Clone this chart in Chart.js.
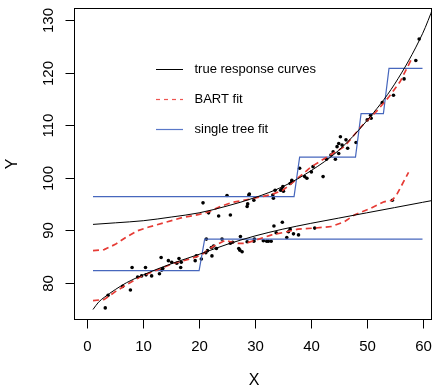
<!DOCTYPE html>
<html>
<head>
<meta charset="utf-8">
<script src="https://cdn.jsdelivr.net/npm/chart.js@4"></script>
<style>
html,body{margin:0;padding:0;background:#fff;}
#wrap{width:436px;height:387px;}
</style>
</head>
<body>
<div id="wrap"><canvas id="c" width="436" height="387"></canvas></div>
<script>
// ---- data ----
const xTicks = [0, 10, 20, 30, 40, 50, 60];
const yTicks = [80, 90, 100, 110, 120, 130];
const legendLabels = ['true response curves', 'BART fit', 'single tree fit'];
const xTitle = 'X';
const yTitle = 'Y';

// true response curves
const trueUpperX = [1, 5, 10, 15, 20, 25, 30, 35, 40, 45, 50, 55, 60, 62];
const trueUpperY = [91.1, 91.4, 91.8, 92.5, 93.3, 94.6, 96.2, 98.3, 101.3, 105.2, 110.8, 117.8, 127.4, 132.6];
const trueLowerX = [1, 2, 3, 5, 7, 10, 15, 20, 25, 30, 35, 40, 45, 50, 55, 60, 62];
const trueLowerY = [74.9, 76.3, 77.2, 78.7, 80.0, 81.5, 83.6, 85.4, 87.3, 88.9, 90.2, 91.3, 92.3, 93.3, 94.3, 95.3, 95.7];

// BART fit
const bartUpperX = [1, 3, 5, 7, 9, 11, 14, 17, 20, 22, 24, 26, 29, 33, 35, 37, 40, 43, 46, 49, 52, 54, 56, 58];
const bartUpperY = [86.1, 86.3, 87.3, 88.7, 89.9, 90.6, 91.5, 92.4, 93.0, 93.6, 94.6, 95.3, 95.9, 96.8, 97.6, 99.3, 102.0, 104.0, 105.9, 109.7, 112.9, 115.4, 118.3, 122.5];
const bartLowerX = [1, 3, 5, 7, 9.4, 12.4, 15.4, 18.3, 20.4, 22.5, 24.7, 26.5, 28.3, 30.1, 33, 35.7, 37.7, 40.7, 43.7, 46, 47.8, 50.8, 53.1, 54.6, 55.5, 57.5];
const bartLowerY = [76.6, 76.8, 78.3, 79.6, 81.1, 82.4, 83.7, 84.5, 85.3, 86.9, 88.1, 87.5, 87.5, 88.1, 89.1, 89.7, 90.2, 90.4, 90.7, 91.6, 92.9, 94.2, 95.4, 95.7, 97.0, 101.0];

// single tree fit
const treeUpperX = [1, 37, 38, 48, 49, 53, 54, 60];
const treeUpperY = [96.4, 96.4, 103.9, 103.9, 112.2, 112.2, 120.8, 120.8];
const treeLowerX = [1, 20, 21, 60];
const treeLowerY = [82.3, 82.3, 88.3, 88.3];

// observed points
const obsX = [3.2, 3.7, 6.3, 7.7, 8.0, 9.0, 9.7, 10.4, 10.5, 11.5, 12.9, 13.2, 13.3, 13.5, 14.5, 15.1, 16.0, 16.4, 16.7, 16.8, 19.3, 19.5, 20.4, 21.2, 21.3, 21.5, 22.2, 22.3, 22.6, 23.1, 24.1, 25.6, 26.0, 27.1, 27.4, 27.3, 27.7, 28.6, 29.8, 29.9, 31.5, 32.1, 32.4, 32.9, 33.4, 33.8, 34.9, 35.7, 36.0, 36.3, 36.9, 37.8, 40.7, 54.6,
  20.7, 21.7, 23.5, 25.0, 25.6, 28.6, 28.7, 28.9, 29.0, 29.8, 33.2, 33.3, 33.6, 34.6, 34.8, 35.0, 35.1, 36.3, 36.6, 36.6, 38.0, 38.9, 39.3, 40.1, 40.4, 42.2, 42.8, 43.6, 44.0, 44.4, 44.7, 45.0, 45.0, 45.3, 45.6, 46.3, 46.6, 48.1, 50.1, 50.7, 50.8, 52.8, 54.8, 56.7, 58.8, 59.4];
const obsY = [75.2, 77.6, 79.3, 78.6, 82.9, 81.1, 81.3, 82.9, 81.5, 81.3, 81.7, 84.8, 82.4, 82.7, 84.2, 83.9, 83.7, 84.6, 82.9, 83.9, 84.2, 85.1, 84.5, 85.7, 88.3, 86.1, 86.7, 85.1, 87.0, 86.5, 88.3, 87.5, 87.7, 86.5, 88.8, 86.2, 85.9, 87.8, 87.9, 88.3, 88.0, 87.9, 87.9, 87.9, 90.8, 89.5, 91.5, 88.6, 89.7, 90.2, 89.3, 89.1, 90.4, 95.7,
  95.2, 93.3, 92.7, 96.6, 92.9, 94.5, 95.0, 96.7, 96.9, 95.7, 96.7, 96.1, 97.6, 97.6, 97.8, 98.3, 97.4, 98.9, 99.2, 99.5, 101.8, 100.2, 99.9, 101.1, 102.1, 100.2, 103.5, 104.3, 104.9, 103.5, 105.9, 104.6, 106.5, 107.8, 106.2, 107.2, 105.6, 106.7, 111.0, 111.9, 111.3, 114.3, 115.7, 118.8, 122.3, 126.4];

const RED = '#e63b35';
const BLUE = '#4767bd';
const FONT = '"Liberation Sans", Arial, sans-serif';

function pts(xs, ys) { return xs.map((v, i) => ({ x: v, y: ys[i] })); }

function lineDs(xs, ys, color, width, dash, smooth) {
  return {
    data: pts(xs, ys), showLine: true, borderColor: color, borderWidth: width,
    borderDash: dash || [], pointRadius: 0, pointHoverRadius: 0, fill: false,
    cubicInterpolationMode: smooth ? 'monotone' : 'default', tension: 0
  };
}

const rAxes = {
  id: 'rAxes',
  afterDraw(chart) {
    const { ctx, chartArea: a, scales } = chart;
    const xs = scales.x, ys = scales.y;
    ctx.save();
    ctx.strokeStyle = '#000';
    ctx.fillStyle = '#000';
    ctx.lineWidth = 1;
    // box
    ctx.strokeRect(Math.round(a.left) + 0.5, Math.round(a.top) + 0.5, Math.round(a.width) - 1, Math.round(a.height) - 1);
    // x ticks
    ctx.font = '15px ' + FONT;
    ctx.textAlign = 'center';
    ctx.textBaseline = 'middle';
    const bot = Math.round(a.bottom) - 0.5;
    xTicks.forEach(v => {
      const px = Math.round(xs.getPixelForValue(v)) + 0.5;
      ctx.beginPath(); ctx.moveTo(px, bot); ctx.lineTo(px, bot + 9); ctx.stroke();
      ctx.fillText(String(v), px, bot + 27);
    });
    // y ticks
    const left = Math.round(a.left) + 0.5;
    yTicks.forEach(v => {
      const py = Math.round(ys.getPixelForValue(v)) + 0.5;
      ctx.beginPath(); ctx.moveTo(left, py); ctx.lineTo(left - 9, py); ctx.stroke();
      ctx.save();
      ctx.translate(left - 26, py);
      ctx.rotate(-Math.PI / 2);
      ctx.fillText(String(v), 0, 0);
      ctx.restore();
    });
    // axis titles
    ctx.font = '16px ' + FONT;
    ctx.fillText(xTitle, (a.left + a.right) / 2 + 1, 381);
    ctx.save();
    ctx.translate(13, (a.top + a.bottom) / 2);
    ctx.rotate(-Math.PI / 2);
    ctx.fillText(yTitle, 0, 0);
    ctx.restore();
    // legend
    const rows = [69, 99, 129];
    const styles = [
      { c: '#000000', d: [], w: 1 },
      { c: '#ee5550', d: [4, 4], w: 1.2 },
      { c: '#5a78c8', d: [], w: 1.2 }
    ];
    ctx.font = '13px ' + FONT;
    ctx.textAlign = 'left';
    legendLabels.forEach((lab, i) => {
      const s = styles[i];
      ctx.save();
      ctx.strokeStyle = s.c; ctx.lineWidth = s.w; ctx.setLineDash(s.d);
      ctx.beginPath(); ctx.moveTo(156, rows[i] + 0.5); ctx.lineTo(183, rows[i] + 0.5); ctx.stroke();
      ctx.restore();
      ctx.fillStyle = '#000';
      ctx.fillText(lab, 194.5, rows[i] + 0.5);
    });
    ctx.restore();
  }
};

new Chart(document.getElementById('c'), {
  type: 'scatter',
  data: {
    datasets: [
      lineDs(trueUpperX, trueUpperY, '#000', 1, null, true),
      lineDs(trueLowerX, trueLowerY, '#000', 1, null, true),
      lineDs(bartUpperX, bartUpperY, RED, 1.7, [6, 4], false),
      lineDs(bartLowerX, bartLowerY, RED, 1.7, [6, 4], false),
      lineDs(treeUpperX, treeUpperY, BLUE, 1.2, null, false),
      lineDs(treeLowerX, treeLowerY, BLUE, 1.2, null, false),
      { data: pts(obsX, obsY), pointRadius: 1.8, pointBackgroundColor: '#000', pointBorderWidth: 0, showLine: false }
    ]
  },
  options: {
    responsive: false,
    animation: false,
    devicePixelRatio: 1,
    layout: { padding: { left: 74, top: 8, right: 1, bottom: 67 } },
    plugins: { legend: { display: false }, tooltip: { enabled: false } },
    events: [],
    scales: {
      x: { type: 'linear', min: -2.4, max: 61.7, display: false },
      y: { type: 'linear', min: 72.9, max: 132.3, display: false }
    }
  },
  plugins: [rAxes]
});
</script>
</body>
</html>
